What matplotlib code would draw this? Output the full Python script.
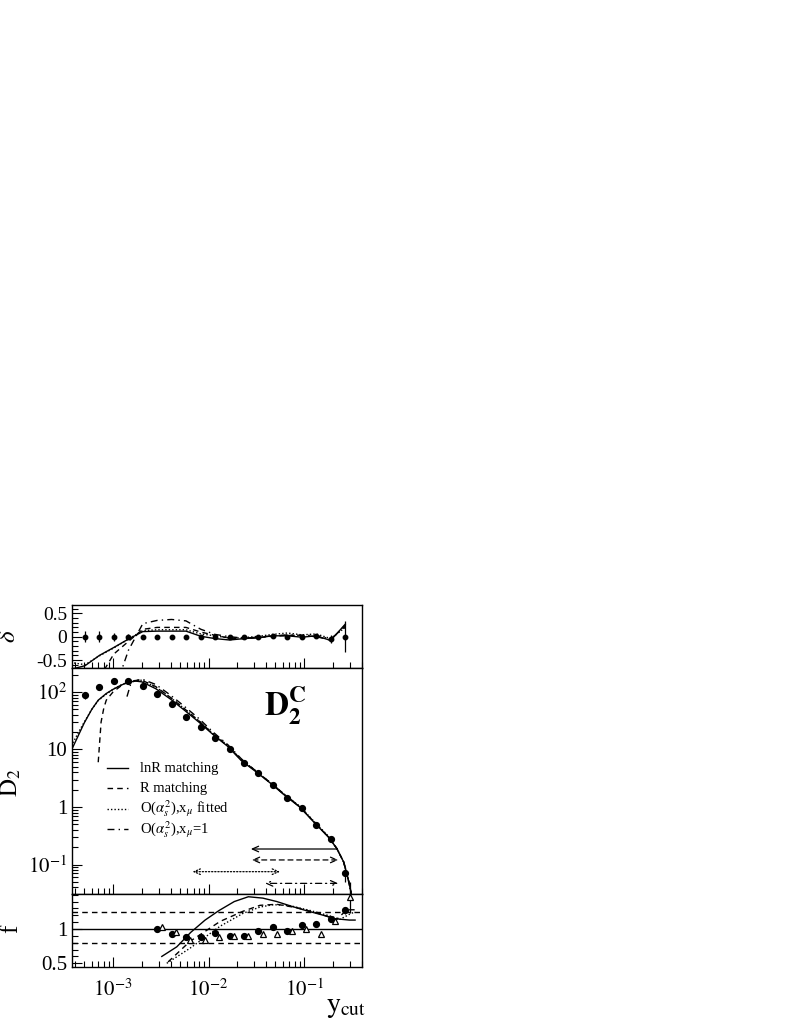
import numpy as np
import matplotlib
matplotlib.use("Agg")
import matplotlib.pyplot as plt
from matplotlib.ticker import FixedLocator, FixedFormatter, LogLocator, NullFormatter, MultipleLocator

plt.rcParams['font.family'] = ['Liberation Serif', 'DejaVu Serif']
plt.rcParams['mathtext.fontset'] = 'stix'

# ------------------------------------------------------------
# data points (shared ycut bins)
# ------------------------------------------------------------
ycut = [5.1e-4, 7.2e-4, 1.02e-3, 1.45e-3, 2.05e-3, 2.9e-3, 4.1e-3, 5.8e-3, 8.3e-3,
        0.0117, 0.0166, 0.0235, 0.0333, 0.047, 0.067, 0.095, 0.134, 0.19, 0.27]
d2_data = [88.7, 122, 155, 155, 129, 91, 61, 37.2, 24.9, 16.0, 10.1, 5.75, 3.86,
           2.41, 1.42, 0.95, 0.48, 0.274, 0.070]
d2_err = [12, 8, 6, 5, 4, 3, 2, 1.2, 0.8, 0.5, 0.3, 0.2, 0.12, 0.08, 0.05, 0.03,
          0.02, 0.012, 0.02]
delta_data = [0, 0, 0, 0, 0, 0, 0, 0, 0, 0, 0, -0.01, 0, 0.01, 0, 0, 0.02, -0.05, 0]
delta_err = [0.12, 0.12, 0.09, 0.05, 0.03, 0.02, 0.02, 0.02, 0.02, 0.02, 0.02, 0.02,
             0.02, 0.02, 0.03, 0.03, 0.04, 0.08, 0.33]

# delta curves (one extra node left of the first bin)
ycut_d = [3.6e-4] + ycut
delta_lnr = [-0.70, -0.62, -0.40, -0.23, -0.05, 0.11, 0.12, 0.12, 0.12, 0.01, -0.04,
             -0.07, -0.04, -0.02, 0.02, 0.02, -0.01, 0.02, -0.08, 0.27]
delta_R = [np.nan, np.nan, -0.88, -0.37, -0.10, 0.16, 0.20, 0.20, 0.20, 0.10, 0.03,
           -0.03, -0.04, -0.02, 0.01, 0.03, 0.03, 0.0, -0.07, 0.25]
delta_fit = [-0.55, -0.60, -0.41, -0.24, -0.05, 0.13, 0.15, 0.15, 0.15, 0.06, 0.02,
             -0.03, -0.02, 0.01, 0.05, 0.08, 0.04, 0.06, -0.04, 0.20]
delta_mu1 = [np.nan, np.nan, np.nan, -1.2, -0.29, 0.28, 0.35, 0.37, 0.34, 0.16, 0.05,
             0.0, -0.03, -0.01, 0.02, 0.04, 0.03, 0.03, -0.05, 0.22]

# D2 theory curves
ycut_m = [3.8e-4, 4.5e-4, 5e-4, 6e-4, 7e-4, 8.5e-4, 1e-3, 1.2e-3, 1.4e-3, 1.7e-3, 2e-3,
          2.8e-3, 4e-3, 5.6e-3, 8e-3, 0.011, 0.016, 0.022, 0.032, 0.045, 0.064, 0.09,
          0.13, 0.18, 0.22, 0.26, 0.29, 0.31, 0.33]
d2_lnr = [11, 20, 29, 50, 72, 94, 111, 130, 145, 155, 150, 114, 75, 48, 29.5, 18.5,
          11.2, 6.4, 4.0, 2.55, 1.55, 1.0, 0.52, 0.30, 0.19, 0.11, 0.055, 0.033, 0.015]
d2_fit = [13, 22, 30, 50, 71, 92, 111, 131, 147, 158, 160, 122, 80, 51, 31, 19.2,
          11.6, 6.7, 4.1, 2.6, 1.6, 1.03, 0.54, 0.31, 0.19, 0.11, 0.055, 0.033, 0.015]
ycut_R = [7e-4, 7.5e-4, 8e-4, 8.5e-4, 1e-3, 1.2e-3, 1.4e-3, 1.7e-3, 2e-3, 2.8e-3, 4e-3,
          5.6e-3, 8e-3, 0.011, 0.016, 0.022, 0.032, 0.045, 0.064, 0.09, 0.13, 0.18,
          0.22, 0.26, 0.29, 0.31, 0.33]
d2_R = [6, 30, 52, 72, 100, 126, 146, 158, 160, 124, 80, 51, 31, 19, 11.3, 6.6, 4.05,
        2.58, 1.57, 1.01, 0.53, 0.30, 0.19, 0.11, 0.055, 0.033, 0.015]
ycut_mu = [1.4e-3, 1.55e-3, 2e-3, 2.8e-3, 4e-3, 5.6e-3, 8e-3, 0.011, 0.016, 0.022,
           0.032, 0.045, 0.064, 0.09, 0.13, 0.18, 0.22, 0.26, 0.29, 0.31, 0.33]
d2_mu1 = [83, 148, 168, 135, 88, 56, 34, 20.5, 12, 6.9, 4.1, 2.6, 1.6, 1.02, 0.53,
          0.30, 0.19, 0.11, 0.055, 0.033, 0.015]

# fit ranges shown as arrows
fit_lo = [0.0277, 0.0284, 0.0068, 0.039]
fit_hi = [0.22, 0.228, 0.056, 0.228]

# f panel
f_circ = [0.995, 0.93, 0.88, 0.89, 0.94, 0.90, 0.90, 0.975, 1.025, 0.975, 1.06, 1.07,
          1.15, 1.27]
f_circ_err = [0.01] * 12 + [0.02, 0.05]
f_tri = [1.025, 0.955, 0.845, 0.845, 0.88, 0.905, 0.905, 0.93, 0.93, 0.975, 1.005,
         0.93, 1.12, 1.46]
f_tri_err = [0.01] * 12 + [0.03, 0.22]
ycut_f_lnr = [3.24e-3, 4.65e-3, 6.5e-3, 9.2e-3, 0.0129, 0.0186, 0.0261, 0.037, 0.0518,
              0.0743, 0.104, 0.150, 0.211, 0.298, 0.342]
f_lnr = [0.60, 0.74, 0.95, 1.13, 1.27, 1.40, 1.47, 1.45, 1.40, 1.33, 1.27, 1.21, 1.15,
         1.13, 1.13]
ycut_f_R = [3.77e-3, 6.4e-3, 0.0132, 0.0231, 0.0346, 0.0518, 0.0839, 0.147, 0.22, 0.28,
            0.342]
f_R = [0.52, 0.82, 1.11, 1.26, 1.345, 1.36, 1.31, 1.22, 1.14, 1.28, 1.28]
ycut_f_fit = [3.65e-3, 6.4e-3, 0.0132, 0.0231, 0.0346, 0.0478, 0.0714, 0.1156, 0.187,
              0.238, 0.303, 0.342]
f_fit = [0.50, 0.72, 1.04, 1.23, 1.32, 1.355, 1.34, 1.27, 1.19, 1.14, 1.22, 1.25]
f_ref = [1.0, 1.25, 0.8]

legend_labels = ['lnR matching', 'R matching',
                 r'O($\alpha_s^2$),x$_\mu$ fitted', r'O($\alpha_s^2$),x$_\mu$=1']

# ------------------------------------------------------------
dash = (0, (4, 3))
dot = (0, (1, 1.5))
dashdot = (0, (5, 3, 1, 3))
styles = ['-', dash, dot, dashdot]
lw = 1.0
H = 1022.0

fig = plt.figure(figsize=(7.9, 10.22), dpi=100)
L, W = 72 / 790, 290 / 790
ax_d = fig.add_axes([L, 1 - 668 / H, W, 63 / H])
ax_m = fig.add_axes([L, 1 - 894 / H, W, 226 / H])
ax_f = fig.add_axes([L, 1 - 967 / H, W, 73 / H])

xlim = (3.72e-4, 0.404)
for ax in (ax_d, ax_m, ax_f):
    ax.set_xscale('log')
    ax.set_xlim(*xlim)
    ax.xaxis.set_major_locator(FixedLocator([1e-3, 1e-2, 1e-1]))
    ax.xaxis.set_minor_locator(LogLocator(base=10, subs=np.arange(2, 10)))
    ax.xaxis.set_minor_formatter(NullFormatter())
    ax.tick_params(which='both', direction='in', top=False, right=False, labelsize=14)
    ax.tick_params(which='major', length=7, width=0.8)
    ax.tick_params(which='minor', length=4, width=0.8)
    for s in ax.spines.values():
        s.set_linewidth(1.0)
for ax in (ax_d, ax_m):
    ax.xaxis.set_major_formatter(NullFormatter())

ax_f.xaxis.set_major_formatter(FixedFormatter([r'$10^{-3}$', r'$10^{-2}$', r'$10^{-1}$']))
ax_f.tick_params(axis='x', which='major', pad=9, labelsize=15)

# --- delta panel
ax_d.plot(ycut_d, delta_lnr, color='k', lw=lw)
ax_d.plot(ycut_d, delta_R, color='k', lw=lw, ls=dash)
ax_d.plot(ycut_d, delta_fit, color='k', lw=lw, ls=dot)
ax_d.plot(ycut_d, delta_mu1, color='k', lw=lw, ls=dashdot)
ax_d.errorbar(ycut, delta_data, yerr=delta_err, fmt='o', color='k', ms=3.2,
              elinewidth=0.9, capsize=0)
ax_d.set_ylim(-0.67, 0.68)
ax_d.yaxis.set_major_locator(FixedLocator([-0.5, 0, 0.5]))
ax_d.yaxis.set_major_formatter(FixedFormatter(['-0.5', '0', '0.5']))
ax_d.yaxis.set_minor_locator(MultipleLocator(0.1))

# --- D2 panel
ax_m.set_yscale('log')
ax_m.set_ylim(0.0307, 261)
for xs, ys, st in zip([ycut_m, ycut_R, ycut_m, ycut_mu], [d2_lnr, d2_R, d2_fit, d2_mu1], styles):
    ax_m.plot(xs, ys, color='k', lw=lw, ls=st)
ax_m.errorbar(ycut, d2_data, yerr=d2_err, fmt='o', color='k', ms=4.2,
              elinewidth=0.9, capsize=0)
ax_m.yaxis.set_major_locator(FixedLocator([0.1, 1, 10, 100]))
ax_m.yaxis.set_major_formatter(FixedFormatter([r'$10^{-1}$', '1', '10', r'$10^{2}$']))
ax_m.yaxis.set_minor_locator(LogLocator(base=10, subs=np.arange(2, 10)))
ax_m.yaxis.set_minor_formatter(NullFormatter())
ax_m.tick_params(axis='y', labelsize=15)

ax_m.text(0.735, 0.835, r'$\mathbf{D}_{\mathbf{2}}^{\mathbf{C}}$', transform=ax_m.transAxes,
          fontsize=24, ha='center', va='center')

# legend drawn row by row so the rows stay evenly spaced
for i, (lab, st) in enumerate(zip(legend_labels, styles)):
    yy = (894 - (768 + 20.4 * i)) / 226
    ax_m.plot([0.121, 0.193], [yy, yy], transform=ax_m.transAxes, color='k', lw=lw, ls=st)
    ax_m.text(0.234, yy, lab, transform=ax_m.transAxes, fontsize=10.5,
              ha='left', va='center')

arrow_y = [0.186, 0.12, 0.075, 0.047]
for lo, hi, yy, st in zip(fit_lo, fit_hi, arrow_y, styles):
    astyle = '->' if st == '-' else '<->'
    ax_m.annotate('', xy=(lo, yy), xytext=(hi, yy),
                  arrowprops=dict(arrowstyle=astyle + ',head_length=0.45,head_width=0.2',
                                  color='k', lw=0.9, ls=st, shrinkA=0, shrinkB=0))

# --- f panel
for v, st in zip(f_ref, ['-', dash, dash]):
    ax_f.axhline(v, color='k', lw=lw, ls=st)
ax_f.plot(ycut_f_lnr, f_lnr, color='k', lw=lw)
ax_f.plot(ycut_f_R, f_R, color='k', lw=lw, ls=dash)
ax_f.plot(ycut_f_fit, f_fit, color='k', lw=lw, ls=dot)
ax_f.errorbar(ycut[5:], f_circ, yerr=f_circ_err, fmt='o', color='k', ms=4.2,
              elinewidth=0.9, capsize=0)
tri = ax_f.errorbar(np.array(ycut[5:]) * 1.11, f_tri, yerr=f_tri_err, fmt='^', color='k',
                    mfc='white', ms=5, mew=0.9, elinewidth=0.9, capsize=0)
for art in tri.lines[2]:
    art.set_clip_on(False)
tri.lines[0].set_clip_on(False)
ax_f.set_ylim(0.446, 1.51)
ax_f.yaxis.set_major_locator(FixedLocator([0.5, 1]))
ax_f.yaxis.set_major_formatter(FixedFormatter(['0.5', '1']))
ax_f.yaxis.set_minor_locator(MultipleLocator(0.1))
ax_f.tick_params(axis='y', labelsize=15)

# axis titles
fig.text(9 / 790, 1 - 636 / H, r'$\delta$', fontsize=18, rotation=90, ha='center', va='center')
fig.text(11 / 790, 1 - 783 / H, r'$\mathrm{D}_2$', fontsize=18, rotation=90,
         ha='center', va='center')
fig.text(11 / 790, 1 - 929 / H, 'f', fontsize=18, rotation=90, ha='center', va='center')
fig.text(346 / 790, 1 - 1008 / H, r'$\mathrm{y}_{\mathrm{cut}}$', fontsize=20,
         ha='center', va='center')

fig.savefig('out.png', dpi=100)
